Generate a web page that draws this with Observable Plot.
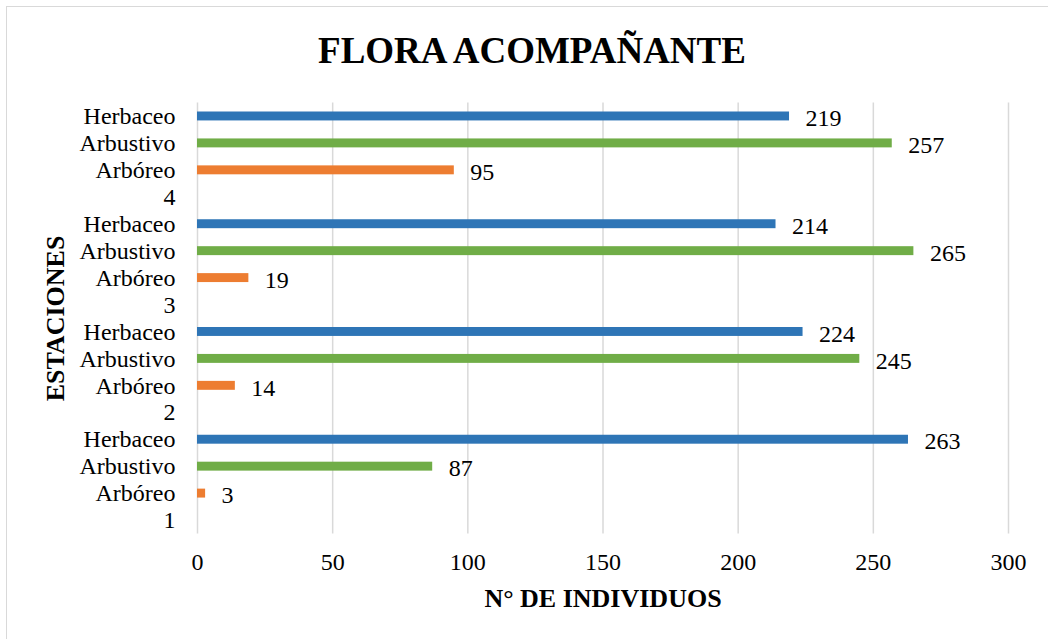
<!DOCTYPE html>
<html>
<head>
<meta charset="utf-8">
<script src="https://cdn.jsdelivr.net/npm/d3@7"></script>
<script src="https://cdn.jsdelivr.net/npm/@observablehq/plot@0.6"></script>
<style>
  html, body { margin: 0; padding: 0; background: #fff; overflow: hidden; }
  #wrap { position: relative; width: 1048px; height: 639px; overflow: hidden; background: #fff; }
  #border { position: absolute; left: 6px; top: 6px; width: 1200px; height: 800px; border: 1.5px solid #d9d9d9; box-sizing: border-box; }
  #title { position: relative; height: 90px; box-sizing: border-box; padding-top: 31px; padding-left: 16px; line-height: 40px;
           text-align: center; font-family: "Liberation Serif", "Times New Roman", serif; font-weight: bold; font-size: 37px; color: #000; }
  #chart { position: relative; height: 549px; }
  #chart svg { display: block; }
</style>
</head>
<body>
<div id="wrap">
  <div id="border"></div>
  <div id="title">FLORA ACOMPAÑANTE</div>
  <div id="chart"></div>
</div>
<script>
const stations = ["1", "2", "3", "4"];
const types = ["Arbóreo", "Arbustivo", "Herbaceo"];
const arboreo = [3, 14, 19, 95];
const arbustivo = [87, 245, 265, 257];
const herbaceo = [263, 224, 214, 219];
const xTicks = [0, 50, 100, 150, 200, 250, 300];
const xTitle = "N° DE INDIVIDUOS";
const yTitle = "ESTACIONES";
const typeColors = ["#ED7D31", "#70AD47", "#2E75B6"];

const seriesByType = { "Arbóreo": arboreo, "Arbustivo": arbustivo, "Herbaceo": herbaceo };

// Build rows
const rows = [];
stations.forEach((s, i) => {
  types.forEach(t => rows.push({ key: s + "|" + t, station: s, type: t, value: seriesByType[t][i] }));
});

// Domain top-to-bottom: station 4 first, each group Herbaceo, Arbustivo, Arbóreo, then station label
const domain = [];
[...stations].reverse().forEach(s => {
  [...types].reverse().forEach(t => domain.push(s + "|" + t));
  domain.push(s);
});

const plot = Plot.plot({
  width: 1048,
  height: 549,
  marginLeft: 197,
  marginRight: 40,
  marginTop: 12.5,
  marginBottom: 105.5,
  style: { fontFamily: "'Liberation Serif', 'Times New Roman', serif", fontSize: "24px", color: "#000", background: "transparent" },
  x: { domain: [0, 300], ticks: xTicks },
  y: { domain, padding: 0, round: false },
  color: { domain: types, range: typeColors },
  marks: [
    Plot.ruleX(xTicks, { stroke: "#d9d9d9", strokeWidth: 1.5 }),
    Plot.barX(rows, { x: "value", y: "key", fill: "type", insetTop: 9, insetBottom: 9 }),
    Plot.text(rows, { x: "value", y: "key", text: d => String(d.value), textAnchor: "start", dx: 16, dy: 2, fontSize: 24, fill: "#000" }),
    Plot.axisY({ tickSize: 0, tickPadding: 22, fontSize: 24, label: null,
                 tickFormat: k => k.includes("|") ? k.split("|")[1] : k }),
    Plot.axisX({ ticks: xTicks, tickSize: 0, tickPadding: 19, fontSize: 24, label: null }),
    Plot.text([xTitle], { frameAnchor: "bottom", lineAnchor: "middle", dy: 65, fontSize: 26, fontWeight: "bold", fill: "#000" }),
    Plot.text([yTitle], { frameAnchor: "left", textAnchor: "middle", lineAnchor: "middle", dx: -142, rotate: -90, fontSize: 26, fontWeight: "bold", fill: "#000" })
  ]
});
document.getElementById("chart").appendChild(plot);
</script>
</body>
</html>
